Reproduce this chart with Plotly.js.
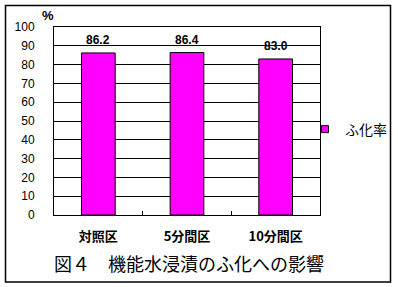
<!DOCTYPE html>
<html><head><meta charset="utf-8">
<script src="https://cdn.plot.ly/plotly-3.0.1.min.js"></script>
<style>html,body{margin:0;padding:0;background:#fff}</style>
</head><body>
<div id="chart" style="width:398px;height:287px"></div>
<script>
const categories = ["対照区", "5分間区", "10分間区"];
const hatchRate = [86.2, 86.4, 83.0];
const seriesName = "ふ化率";
const yTicks = [0,10,20,30,40,50,60,70,80,90,100];
const chartTitle = "図４　機能水浸漬のふ化への影響";

const jp = "'MS PGothic','Noto Sans CJK JP', sans-serif";
const barTrace = {
  type: "bar", x: categories, y: hatchRate, name: seriesName, showlegend: false,
  marker: {color: "#FF00FF", line: {color: "#000", width: 1}},
  hoverinfo: "none"
};
const legendTrace = {
  type: "scatter", mode: "markers", x: [null], y: [null], name: seriesName, showlegend: true,
  marker: {symbol: "square", size: 7, color: "#FF00FF", line: {color: "#000", width: 1}},
  hoverinfo: "none"
};
const annotations = categories.map((c,i)=>({
  x: c, y: hatchRate[i], xref: "x", yref: "y", yanchor: "bottom", xanchor: "center",
  text: hatchRate[i].toFixed(1), showarrow: false, yshift: 4,
  font: {family: "Liberation Sans, Arial, sans-serif", size: 12, color: "#000", weight: "bold"}
}));
annotations.push({xref:"paper", yref:"paper", x:(48-54)/266, y:(215-15)/188, xanchor:"center", yanchor:"middle",
  text:"%", showarrow:false,
  font:{family:"Liberation Sans, Arial", size:13, color:"#000", weight:"bold"}});
annotations.push({xref:"paper", yref:"paper", x:(189-54)/266, y:(215-263)/188, xanchor:"center", yanchor:"middle",
  text:chartTitle, showarrow:false,
  font:{family:jp, size:18, color:"#000"}});
const layout = {
  width: 398, height: 287,
  margin: {l:54, r:78, t:27, b:72, autoexpand:false},
  paper_bgcolor: "#fff", plot_bgcolor: "#fff",
  bargap: 0.62,
  xaxis: {type:"category", showline:true, mirror:true, linecolor:"#000", linewidth:1,
    ticks:"inside", ticklen:4, tickcolor:"#000", tickson:"boundaries", showgrid:false,
    tickfont:{family:jp, size:13, color:"#000", weight:"bold"}, ticklabelstandoff: 9},
  yaxis: {range:[0,100], tickvals:yTicks, showline:true, mirror:true, linecolor:"#000", linewidth:1,
    showgrid:true, gridcolor:"#000", gridwidth:1, zeroline:false, ticks:"",
    tickfont:{family:"Liberation Sans, Arial", size:12, color:"#000"}, ticklabelstandoff: 16},
  legend: {x:(305-54)/266, y:(215-129.5)/188, xanchor:"left", yanchor:"middle",
    font:{family:jp, size:14, color:"#000"}, bgcolor:"rgba(0,0,0,0)", itemwidth:30},
  annotations: annotations,
  shapes: [{type:"rect", xref:"paper", yref:"paper",
    x0:(5.5-54)/266, x1:(390.5-54)/266, y0:(215-282)/188, y1:(215-5.5)/188,
    line:{color:"#000", width:1.5}, fillcolor:"rgba(0,0,0,0)", layer:"above"}]
};
Plotly.newPlot("chart", [barTrace, legendTrace], layout, {staticPlot:true, displayModeBar:false});
</script>
</body></html>
